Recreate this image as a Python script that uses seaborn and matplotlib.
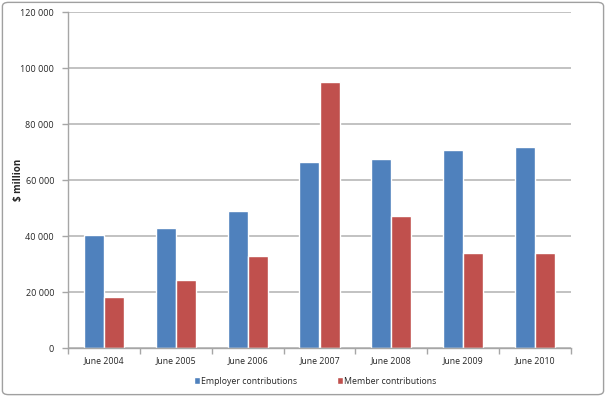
import pandas as pd
import numpy as np
import matplotlib
matplotlib.use("Agg")
import matplotlib.pyplot as plt
import seaborn as sns
from matplotlib.patches import FancyBboxPatch
from matplotlib.ticker import FuncFormatter, FixedLocator

# dados
anos = ["June 2004", "June 2005", "June 2006", "June 2007", "June 2008", "June 2009", "June 2010"]
employer = [40200, 43000, 48800, 66400, 67400, 70800, 71700]
member = [18100, 24200, 33000, 94900, 47300, 33800, 34000]
series = ["Employer contributions", "Member contributions"]

df = pd.DataFrame({
    "ano": anos * 2,
    "valor": employer + member,
    "serie": [series[0]] * len(anos) + [series[1]] * len(anos),
})

sns.set_theme(style="white")
plt.rcParams["font.family"] = ["Open Sans", "DejaVu Sans"]

fig = plt.figure(figsize=(6.06, 3.97), dpi=100)
ax = fig.add_axes([68 / 606, 49 / 397, 503 / 606, 336 / 397])

cores = {series[0]: "#4F81BD", series[1]: "#C0504D"}
sns.barplot(data=df, x="ano", y="valor", hue="serie", palette=cores,
            width=0.56, gap=0, saturation=1, ax=ax, legend=True)

ax.set_ylim(0, 120000)
ax.set_xlim(-0.5, len(anos) - 0.5)
ax.set_yticks(np.arange(0, 120001, 20000))
ax.yaxis.set_major_formatter(FuncFormatter(lambda v, p: f"{int(v):,}".replace(",", " ")))
ax.grid(axis="y", color="#BDBDBD", linewidth=1.3)
ax.set_axisbelow(True)

for s in ["top", "right"]:
    ax.spines[s].set_visible(False)
for s in ["left", "bottom"]:
    ax.spines[s].set_color("#A6A6A6")
    ax.spines[s].set_linewidth(1.0)

ax.tick_params(axis="y", labelsize=6.5, length=4, width=1, color="#A6A6A6", pad=6, direction="out", left=True)
ax.tick_params(axis="x", which="major", labelsize=6.3, length=0, pad=6)
ax.xaxis.set_minor_locator(FixedLocator(np.arange(-0.5, len(anos), 1)))
ax.tick_params(axis="x", which="minor", length=4, width=1, color="#A6A6A6", direction="out", bottom=True)

ax.set_xlabel("")
ax.set_ylabel("$ million", fontsize=7, fontweight="bold")
ax.yaxis.set_label_coords(-0.088, 0.5)

# legenda
h, l = ax.get_legend_handles_labels()
ax.get_legend().remove()
fig.legend(h, l, loc="center", bbox_to_anchor=(0.52, 0.04), ncol=2, frameon=False,
           fontsize=6.3, handlelength=0.7, handleheight=0.7, handletextpad=0.15,
           columnspacing=4.5)

# borda externa
borda = FancyBboxPatch((0.004, 0.006), 0.992, 0.988, boxstyle="round,pad=0,rounding_size=0.01",
                       transform=fig.transFigure, fill=False, edgecolor="#A0A0A0", linewidth=1.0)
fig.patches.append(borda)

fig.savefig("out.png", dpi=100)
